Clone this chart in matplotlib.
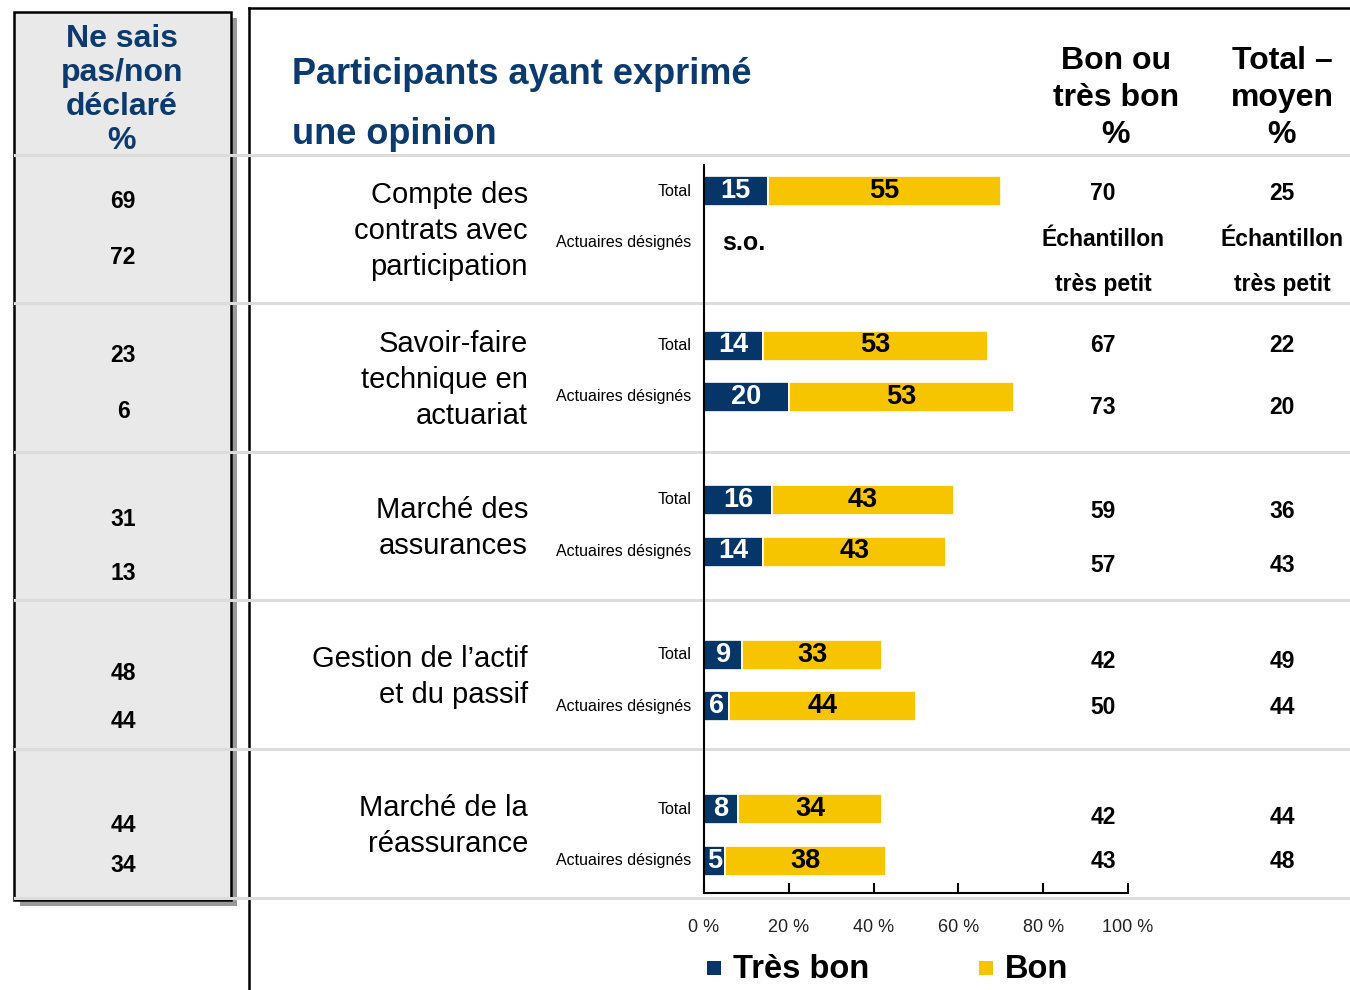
import matplotlib.pyplot as plt
from matplotlib.patches import Rectangle

plt.rcParams['font.family'] = ['Liberation Sans', 'DejaVu Sans']

# data
categories = ["Compte des\ncontrats avec\nparticipation",
              "Savoir-faire\ntechnique en\nactuariat",
              "Marché des\nassurances",
              "Gestion de l’actif\net du passif",
              "Marché de la\nréassurance"]
rows = ["Total", "Actuaires désignés"]
tres_bon_total = [15, 14, 16, 9, 8]
bon_total = [55, 53, 43, 33, 34]
tres_bon_act = [None, 20, 14, 6, 5]
bon_act = [None, 53, 43, 44, 38]
bon_ou_tb_total = [70, 67, 59, 42, 42]
bon_ou_tb_act = [None, 73, 57, 50, 43]
moyen_total = [25, 22, 36, 49, 44]
moyen_act = [None, 20, 43, 44, 48]
nsp_total = [69, 23, 31, 48, 44]
nsp_act = [72, 6, 13, 44, 34]
ticks = [0, 20, 40, 60, 80, 100]

navy = "#063567"
yellow = "#F7C400"
blue_txt = "#0b3a6e"
sep = "#dcdcdc"

W, H = 1350, 990
fig = plt.figure(figsize=(13.5, 9.9), dpi=100)
bg = fig.add_axes([0, 0, 1, 1])
bg.set_xlim(0, W)
bg.set_ylim(H, 0)
bg.axis("off")

# layout (pixels)
bar_top, bar_bot = 165, 893
x0, x100 = 704, 1128
g0, gstep, rstep = 191, 154.5, 51.5
bar_h = 30

# left panel with shadow
bg.add_patch(Rectangle((20, 18), 217, 888, facecolor="#999999", edgecolor="none", zorder=1))
bg.add_patch(Rectangle((14, 12), 217, 888, facecolor="#e9e9e9", edgecolor="black", lw=1.8, zorder=2))
bg.text(122, 90, "Ne sais\npas/non\ndéclaré\n%", color=blue_txt, fontsize=23, fontweight="bold",
        ha="center", va="center", linespacing=1.17, zorder=5)

# frame lines
bg.plot([249, 249], [8, 990], color="black", lw=1.8, zorder=3)
bg.plot([249, 1350], [8, 8], color="black", lw=1.8, zorder=3)

# separators
for y in [155, 303, 452, 600, 749, 898]:
    bg.plot([15, 1350], [y, y], color=sep, lw=2.2, zorder=3)

# title
bg.text(292, 74, "Participants ayant exprimé", color=blue_txt, fontsize=26, fontweight="bold", va="center")
bg.text(292, 135, "une opinion", color=blue_txt, fontsize=26, fontweight="bold", va="center")

# column headers
bg.text(1116, 98, "Bon ou\ntrès bon\n%", fontsize=23, fontweight="bold", ha="center", va="center", linespacing=1.3)
bg.text(1282, 98, "Total –\nmoyen\n%", fontsize=23, fontweight="bold", ha="center", va="center", linespacing=1.3)

# bar axes
ax = fig.add_axes([x0 / W, 1 - bar_bot / H, (x100 - x0) / W, (bar_bot - bar_top) / H])
ax.set_xlim(0, 100)
ax.set_ylim(bar_bot, bar_top)
ax.patch.set_alpha(0)
for s in ["top", "right"]:
    ax.spines[s].set_visible(False)
ax.spines["left"].set_linewidth(1.5)
ax.spines["bottom"].set_linewidth(1.5)
ax.set_yticks([])
ax.set_xticks(ticks)
ax.set_xticklabels([f"{t} %" for t in ticks], fontsize=13, color="#222222")
ax.tick_params(axis="x", direction="in", length=7, width=1.5, pad=19)

left_y_total = [201, 355, 520, 673, 825]
left_y_act = [257, 412, 574, 722, 865]
col_y_total = [193, 346, 512, 662, 818]
col_y_act = [None, 407, 565, 707, 862]
cat_y = [231, 380, 528, 677, 826]

for i in range(len(categories)):
    yt = g0 + i * gstep
    ya = yt + rstep
    bg.text(528, cat_y[i], categories[i], fontsize=21, ha="right", va="center", linespacing=1.38)
    bg.text(691, yt, rows[0], fontsize=11.5, ha="right", va="center")
    bg.text(691, ya, rows[1], fontsize=11.5, ha="right", va="center")

    ax.barh(yt, tres_bon_total[i], height=bar_h, color=navy, edgecolor="white", lw=1.2)
    ax.barh(yt, bon_total[i], left=tres_bon_total[i], height=bar_h, color=yellow, edgecolor="white", lw=1.2)
    ax.text(tres_bon_total[i] / 2, yt, str(tres_bon_total[i]), color="white", fontsize=19.5,
            fontweight="bold", ha="center", va="center")
    ax.text(tres_bon_total[i] + bon_total[i] / 2, yt, str(bon_total[i]), color="black", fontsize=19.5,
            fontweight="bold", ha="center", va="center")
    if tres_bon_act[i] is None:
        ax.text(4.2, ya, "s.o.", fontsize=18, fontweight="bold", ha="left", va="center")
    else:
        ax.barh(ya, tres_bon_act[i], height=bar_h, color=navy, edgecolor="white", lw=1.2)
        ax.barh(ya, bon_act[i], left=tres_bon_act[i], height=bar_h, color=yellow, edgecolor="white", lw=1.2)
        ax.text(tres_bon_act[i] / 2, ya, str(tres_bon_act[i]), color="white", fontsize=19.5,
                fontweight="bold", ha="center", va="center")
        ax.text(tres_bon_act[i] + bon_act[i] / 2, ya, str(bon_act[i]), color="black", fontsize=19.5,
                fontweight="bold", ha="center", va="center")

    # left column
    bg.text(123, left_y_total[i], str(nsp_total[i]), fontsize=16.5, fontweight="bold", ha="center", va="center", zorder=5)
    bg.text(123, left_y_act[i], str(nsp_act[i]), fontsize=16.5, fontweight="bold", ha="center", va="center", zorder=5)

    # right columns
    bg.text(1103, col_y_total[i], str(bon_ou_tb_total[i]), fontsize=16.5, fontweight="bold", ha="center", va="center")
    bg.text(1282, col_y_total[i], str(moyen_total[i]), fontsize=16.5, fontweight="bold", ha="center", va="center")
    if bon_ou_tb_act[i] is None:
        for xc in [1103, 1282]:
            bg.text(xc, 239, "Échantillon", fontsize=16.5, fontweight="bold", ha="center", va="center")
            bg.text(xc, 285, "très petit", fontsize=16.5, fontweight="bold", ha="center", va="center")
    else:
        bg.text(1103, col_y_act[i], str(bon_ou_tb_act[i]), fontsize=16.5, fontweight="bold", ha="center", va="center")
        bg.text(1282, col_y_act[i], str(moyen_act[i]), fontsize=16.5, fontweight="bold", ha="center", va="center")

# legend
bg.add_patch(Rectangle((707, 961), 14, 14, facecolor=navy, edgecolor="none"))
bg.text(733, 970, "Très bon", fontsize=23.5, fontweight="bold", va="center")
bg.add_patch(Rectangle((979, 961), 14, 14, facecolor=yellow, edgecolor="none"))
bg.text(1005, 970, "Bon", fontsize=23.5, fontweight="bold", va="center")

fig.savefig("out.png", dpi=100)
